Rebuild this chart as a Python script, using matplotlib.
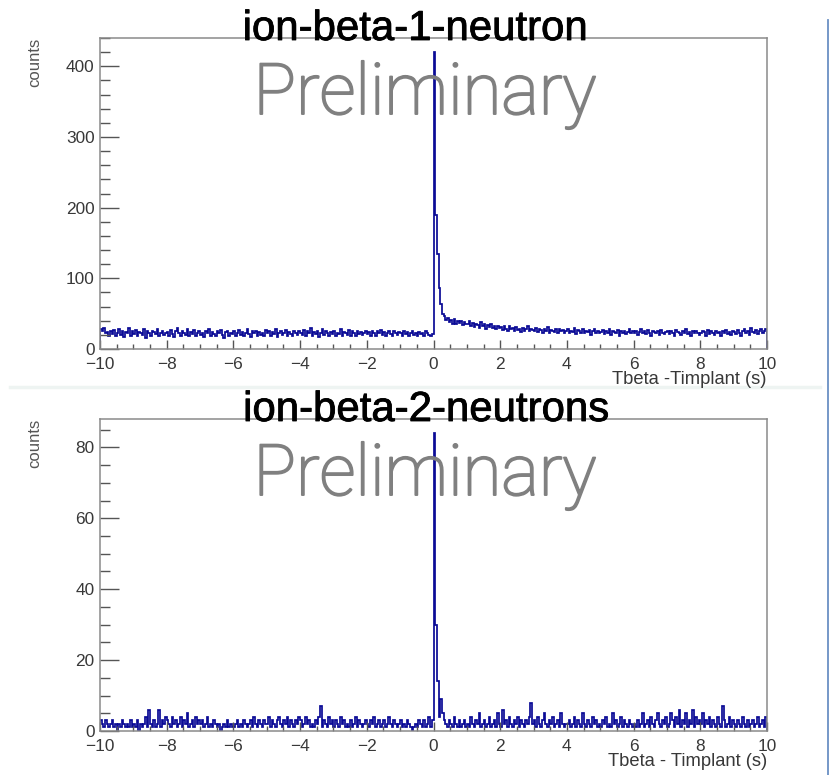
import numpy as np
import matplotlib
matplotlib.use("Agg")
import matplotlib.pyplot as plt
import matplotlib.patheffects as pe
from matplotlib.lines import Line2D
from matplotlib.ticker import MultipleLocator

# histogram range and bins (0.05 s per bin)
x_lo, x_hi = -10.0, 10.0
bin_width = 0.05

# ion-beta-1-neutron, counts per bin
counts_1n = """
28 25 30 22 24 19 26 21 27 18 23 29 20 25 17 24 22 30 19 26
21 27 18 24 23 20 28 16 25 22 19 26 24 21 29 18 23 25 20 22
24 19 27 21 17 25 30 22 18 26 23 20 28 19 24 21 27 18 22 25
20 23 17 26 22 29 19 24 21 18 25 22 27 20 16 24 26 19 23 21
25 18 22 27 20 24 19 23 28 21 17 25 22 26 19 24 20 23 18 27
22 26 19 24 21 28 17 23 25 20 22 27 18 24 21 19 26 23 20 25
23 20 27 18 25 22 30 19 24 21 26 17 23 28 20 25 22 19 24 21
26 19 23 21 28 18 24 22 20 27 19 25 23 18 26 21 24 20 22 25
21 24 19 26 22 18 25 23 27 20 24 19 22 26 21 18 25 23 20 24
22 19 25 21 24 18 23 26 20 22 19 24 21 23 18 25 22 20 19 21
420 190 135 86 64 50 46 41 44 38 41 36 42 35 39 37 40 34 38 36
35 39 33 37 31 36 34 30 38 32 35 29 34 31 36 30 33 28 32 30
31 27 33 29 26 32 28 30 25 31 27 29 24 30 26 28 32 25 29 27
26 30 24 28 27 23 29 25 31 22 27 26 24 29 23 28 25 27 22 26
28 23 26 24 30 21 27 25 23 28 22 26 24 27 20 25 29 23 26 22
24 27 21 25 23 28 20 26 24 22 27 19 25 23 26 21 24 28 22 25
23 26 20 24 28 22 25 21 27 23 19 26 24 22 25 20 27 23 21 24
25 21 26 23 19 27 24 22 20 25 23 28 21 24 19 26 22 25 23 20
22 26 24 19 27 21 25 23 20 26 22 24 18 25 23 27 21 24 20 26
24 21 27 23 19 25 28 22 26 20 30 24 22 27 21 25 29 23 26 28
"""

# ion-beta-2-neutrons
counts_2n = """
3 2 1 3 2 1 2 3 1 2 0 2 1 3 2 1 2 1 3 1
2 1 3 0 2 1 2 4 1 6 2 1 3 1 2 6 1 3 2 4
3 2 1 4 2 3 1 2 4 1 3 2 5 1 2 3 1 4 2 3
2 3 1 2 4 1 2 1 3 2 1 2 0 1 2 1 3 1 2 1
1 2 3 1 2 1 3 2 1 2 3 1 4 2 1 3 2 1 3 2
2 4 1 3 2 1 3 4 2 1 3 2 4 1 3 2 1 3 2 4
3 1 2 4 2 3 1 2 1 3 2 4 7 1 3 2 1 4 2 3
1 3 2 1 4 2 3 1 2 1 3 1 2 4 1 3 2 1 2 3
2 1 3 2 4 1 2 3 1 2 3 1 2 4 2 1 3 2 1 2
3 1 2 1 3 2 1 0 1 2 1 3 2 1 3 1 2 4 1 3
84 30 14 4 9 5 3 2 1 3 2 1 4 2 1 3 1 2 3 1
2 1 4 2 1 3 2 5 1 2 3 1 2 4 1 2 3 1 5 2
1 6 2 3 1 4 2 1 3 2 4 1 3 2 1 3 2 4 8 2
3 1 4 2 1 3 5 2 1 3 2 4 1 2 3 1 5 2 1 2
2 3 1 2 4 1 3 2 1 5 2 1 3 2 1 4 2 3 1 2
1 3 2 4 1 2 1 5 2 3 1 2 4 1 3 2 1 3 2 1
2 1 3 1 2 5 1 2 3 1 4 2 1 3 5 2 1 3 2 4
1 2 5 3 1 4 2 6 1 3 2 5 1 3 2 6 1 4 2 3
2 5 1 3 2 4 1 3 2 1 4 2 1 7 3 1 2 4 1 3
2 1 3 2 1 4 2 1 3 1 2 3 1 2 4 1 2 3 1 4
"""

titles = ["ion-beta-1-neutron", "ion-beta-2-neutrons"]
xlabels = ["Tbeta -Timplant (s)", "Tbeta - Timplant (s)"]
ymax = [440, 88]
ymajor = [100, 20]
yminor = [20, 5]

W, H = 831, 775
fig = plt.figure(figsize=(W / 100, H / 100), dpi=100)

def fx(px):
    return px / W

def fy(py):
    return 1 - py / H

# axes boxes in pixels: left, right, top, bottom
boxes = [(100, 767, 38, 349), (100, 767, 419, 731)]
hist_color = "#0a0a96"
frame_color = "#8a8a8a"
label_color = "#383838"

edges = np.arange(x_lo, x_hi + bin_width / 2, bin_width)

for i, data in enumerate([counts_1n, counts_2n]):
    vals = np.array(data.split(), dtype=float)
    l, r, t, b = boxes[i]
    ax = fig.add_axes([fx(l), fy(b), fx(r) - fx(l), fy(t) - fy(b)])
    ax.stairs(vals, edges, color=hist_color, lw=1.25)
    ax.set_xlim(x_lo, x_hi)
    ax.set_ylim(0, ymax[i])
    for s in ax.spines.values():
        s.set_color(frame_color)
        s.set_linewidth(1.1)
    ax.xaxis.set_major_locator(MultipleLocator(2))
    ax.xaxis.set_minor_locator(MultipleLocator(0.5))
    ax.yaxis.set_major_locator(MultipleLocator(ymajor[i]))
    ax.yaxis.set_minor_locator(MultipleLocator(yminor[i]))
    ax.tick_params(axis="x", which="major", direction="in", length=6.5, width=1,
                   color="#555555", labelsize=12.4, labelcolor=label_color, pad=6)
    ax.tick_params(axis="x", which="minor", direction="in", length=3.5, width=1, color="#555555")
    ax.tick_params(axis="y", which="major", direction="in", length=14, width=1,
                   color="#555555", labelsize=12.4, labelcolor=label_color, pad=4)
    ax.tick_params(axis="y", which="minor", direction="in", length=7, width=1, color="#555555")
    for lab in ax.get_xticklabels() + ax.get_yticklabels():
        lab.set_family("Liberation Sans")

    # x axis title, right aligned under the axis
    fig.text(fx(r), fy(b + 31), xlabels[i], ha="right", va="center",
             fontsize=13.2, color=label_color, family="Liberation Sans")
    # y axis title
    fig.text(fx(35), fy(t), "counts", rotation=90, ha="center", va="top",
             fontsize=12, color="#555555", family="Liberation Sans")
    # panel title over the frame
    fig.text(fx(415 + 11 * i), fy(t + 2), titles[i], ha="center", va="baseline",
             fontsize=30.2, color="black", family="Liberation Sans", zorder=5,
             path_effects=[pe.withStroke(linewidth=0.6, foreground="black")])
    # watermark
    fig.text(fx(425), fy(t + 76), "Preliminary", ha="center", va="baseline",
             fontsize=51, color="#808080", family="Roboto", weight="light", zorder=5,
             path_effects=[pe.withStroke(linewidth=1.4, foreground="#808080")])

# slide decorations: faint separator and blue border line on the right
fig.add_artist(Line2D([fx(10), fx(820)], [fy(387), fy(387)], color="#eef4f2", lw=2.5))
fig.add_artist(Line2D([fx(828), fx(828)], [0, fy(20)], color="#6a90c4", lw=1.3))

fig.savefig("out.png", dpi=100)
